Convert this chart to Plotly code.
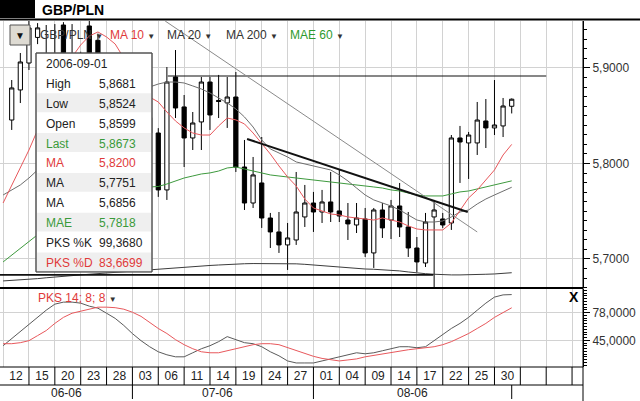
import plotly.graph_objects as go
import pandas as pd

W, H = 640, 401
FONT = "Liberation Sans, Arial, sans-serif"

# ---------------- data ----------------
DAYS = pd.bdate_range("2006-06-12", "2006-09-01")          # 60 trading days
IDX = list(range(len(DAYS)))
CANDLE_IDX = IDX[1:]                                         # candles from 13 June

OPEN = [5.8455, 5.8770, 5.9052, 5.932, 5.912, 5.900, 5.945, 5.910, 5.914, 5.944,
        5.929, 5.892, 5.880, 5.900, 5.870, 5.885, 5.848, 5.8319, 5.7723, 5.8906,
        5.8592, 5.8267, 5.8435, 5.8853, 5.8660, 5.8634, 5.8696, 5.7963, 5.7586, 5.7796,
        5.7429, 5.7283, 5.7147, 5.7199, 5.7440, 5.7586, 5.7492, 5.7597, 5.7503, 5.7408,
        5.7356, 5.7419, 5.7063, 5.7513, 5.7408, 5.7555, 5.7335, 5.7115, 5.6958, 5.7440,
        5.7419, 5.7377, 5.8267, 5.8215, 5.8215, 5.8445, 5.8372, 5.8393, 5.8599]
HIGH = [5.8874, 5.9157, 5.9503, 5.947, 5.945, 5.946, 5.948, 5.946, 5.917, 5.950,
        5.936, 5.912, 5.914, 5.910, 5.895, 5.900, 5.860, 5.837, 5.9010, 5.9188,
        5.8717, 5.8539, 5.8906, 5.8906, 5.8927, 5.8906, 5.8958, 5.8246, 5.8068, 5.8277,
        5.7482, 5.7492, 5.7377, 5.7911, 5.7775, 5.7702, 5.7723, 5.7911, 5.7932, 5.7586,
        5.7586, 5.7534, 5.7534, 5.7586, 5.7618, 5.7796, 5.7492, 5.7230, 5.7482, 5.7618,
        5.7482, 5.8298, 5.8393, 5.8330, 5.8644, 5.8675, 5.8874, 5.8686, 5.8681]
LOW = [5.8351, 5.8633, 5.8979, 5.925, 5.890, 5.893, 5.900, 5.902, 5.895, 5.900,
       5.885, 5.870, 5.868, 5.860, 5.850, 5.840, 5.825, 5.765, 5.7618, 5.8476,
       5.7963, 5.8141, 5.8141, 5.8351, 5.8476, 5.8372, 5.7911, 5.7513, 5.7534, 5.7325,
       5.7115, 5.7063, 5.6885, 5.7147, 5.7335, 5.7283, 5.7377, 5.7387, 5.7387, 5.7199,
       5.7272, 5.7021, 5.6906, 5.7220, 5.7209, 5.7230, 5.7021, 5.6864, 5.6916, 5.6600,
       5.7325, 5.7304, 5.7796, 5.7838, 5.8089, 5.8162, 5.8298, 5.8277, 5.8524]
CLOSE = [5.8791, 5.9063, 5.9419, 5.942, 5.900, 5.914, 5.908, 5.914, 5.905, 5.906,
         5.892, 5.880, 5.900, 5.870, 5.885, 5.848, 5.832, 5.7723, 5.8853, 5.8581,
         5.8267, 5.8424, 5.8853, 5.8508, 5.8650, 5.8696, 5.7963, 5.7586, 5.7880, 5.7429,
         5.7283, 5.7147, 5.7220, 5.7492, 5.7586, 5.7492, 5.7597, 5.7492, 5.7450, 5.7367,
         5.7429, 5.7063, 5.7513, 5.7325, 5.7555, 5.7335, 5.7115, 5.6969, 5.7387, 5.7513,
         5.7356, 5.8267, 5.8225, 5.8298, 5.8455, 5.8372, 5.8403, 5.8602, 5.8673]

MA10 = [5.7586, 5.7775, 5.7953, 5.8141, 5.8351, 5.8560, 5.8770, 5.8958, 5.9115, 5.9241,
        5.9335, 5.9377, 5.9325, 5.9251, 5.9105, 5.8958, 5.8812, 5.8696, 5.8644, 5.8539,
        5.8445, 5.8372, 5.8319, 5.8298, 5.8298, 5.8393, 5.8476, 5.8456, 5.8414, 5.8319,
        5.8215, 5.8099, 5.7974, 5.7859, 5.7764, 5.7628, 5.7534, 5.7503, 5.7471, 5.7461,
        5.7440, 5.7429, 5.7419, 5.7408, 5.7429, 5.7408, 5.7387, 5.7346, 5.7314, 5.7304,
        5.7304, 5.7304, 5.7377, 5.7513, 5.7639, 5.7723, 5.7827, 5.7932, 5.8089, 5.8200]
MA20 = [5.7670, 5.7723, 5.7775, 5.7848, 5.7932, 5.8037, 5.8141, 5.8246, 5.8351, 5.8445,
        5.8529, 5.8602, 5.8665, 5.8717, 5.8759, 5.8780, 5.8791, 5.8801, 5.8832, 5.8853,
        5.8853, 5.8843, 5.8812, 5.8780, 5.8738, 5.8686, 5.8634, 5.8571, 5.8487, 5.8382,
        5.8246, 5.8152, 5.8110, 5.8068, 5.8016, 5.7995, 5.7974, 5.7953, 5.7932, 5.7880,
        5.7817, 5.7743, 5.7670, 5.7618, 5.7586, 5.7555, 5.7513, 5.7461, 5.7408, 5.7387,
        5.7387, 5.7398, 5.7440, 5.7492, 5.7513, 5.7576, 5.7628, 5.7670, 5.7712, 5.7751]
MA200 = [5.6770, 5.6775, 5.6780, 5.6785, 5.6794, 5.6803, 5.6812, 5.6819, 5.6826, 5.6833,
         5.6840, 5.6847, 5.6853, 5.6858, 5.6864, 5.6869, 5.6876, 5.6883, 5.6890, 5.6897,
         5.6904, 5.6911, 5.6918, 5.6925, 5.6932, 5.6937, 5.6943, 5.6948, 5.6950, 5.6952,
         5.6953, 5.6954, 5.6954, 5.6953, 5.6949, 5.6944, 5.6937, 5.6929, 5.6920, 5.6911,
         5.6906, 5.6900, 5.6895, 5.6892, 5.6888, 5.6885, 5.6875, 5.6864, 5.6853, 5.6846,
         5.6840, 5.6833, 5.6833, 5.6833, 5.6833, 5.6836, 5.6840, 5.6843, 5.6850, 5.6856]
MAE60 = [5.6969, 5.7042, 5.7115, 5.7188, 5.7262, 5.7325, 5.7387, 5.7450, 5.7503, 5.7555,
         5.7597, 5.7639, 5.7670, 5.7702, 5.7723, 5.7738, 5.7749, 5.7754, 5.7759, 5.7785,
         5.7817, 5.7848, 5.7869, 5.7890, 5.7901, 5.7921, 5.7953, 5.7963, 5.7942, 5.7921,
         5.7901, 5.7880, 5.7869, 5.7859, 5.7848, 5.7838, 5.7827, 5.7817, 5.7806, 5.7796,
         5.7791, 5.7775, 5.7764, 5.7754, 5.7743, 5.7723, 5.7712, 5.7691, 5.7670, 5.7660,
         5.7660, 5.7660, 5.7681, 5.7702, 5.7712, 5.7733, 5.7754, 5.7775, 5.7796, 5.7818]

PKS_K = [38.6, 47.0, 55.5, 63.9, 72.3, 80.8, 88.0, 90.4, 90.4, 89.2,
         85.6, 83.2, 77.2, 71.1, 62.7, 53.0, 44.6, 37.4, 31.4, 27.8,
         25.4, 25.4, 30.2, 35.0, 38.6, 43.4, 49.4, 45.8, 42.2, 41.0,
         37.4, 31.4, 26.6, 20.5, 18.1, 18.1, 18.1, 20.5, 22.9, 25.4,
         27.8, 30.2, 29.0, 30.2, 32.6, 35.0, 37.4, 37.4, 36.2, 37.4,
         44.6, 51.8, 59.1, 65.1, 72.3, 80.8, 89.2, 96.4, 99.0, 99.368]
PKS_D = [41.0, 41.0, 42.2, 44.6, 50.6, 56.6, 65.1, 72.3, 77.2, 79.6,
         82.0, 84.4, 84.4, 83.8, 82.0, 78.4, 73.5, 66.3, 59.1, 53.1,
         45.8, 39.8, 35.0, 31.4, 30.2, 30.2, 32.6, 35.0, 37.4, 39.8,
         41.0, 41.0, 39.8, 36.2, 32.6, 29.0, 26.0, 23.5, 21.7, 20.5,
         21.7, 22.9, 25.4, 27.2, 29.0, 30.8, 32.6, 33.8, 35.0, 36.2,
         37.4, 39.8, 43.4, 48.2, 53.1, 59.1, 65.1, 72.3, 78.4, 83.6699]

# drawn trend lines (index position, price)
RESIST_X, RESIST_Y = [19.1, 63.0], [5.8916, 5.8916]
LONG_TREND_X, LONG_TREND_Y = [18.8, 55.0], [5.9492, 5.7283]
BOLD_TREND_X, BOLD_TREND_Y = [28.3, 53.9], [5.8257, 5.7492]
SUPPORT_X, SUPPORT_Y = [-0.4, 49.9], [5.6833, 5.6833]

TICK_LABELS = ["12", "15", "20", "23", "28", "03", "06", "11", "14", "19",
               "24", "27", "01", "04", "09", "14", "17", "22", "25", "30"]
MONTHS = ["06-06", "07-06", "08-06"]
MONTH_POS = [7.3, 24.9, 47.5]
MONTH_BOUNDS = [15, 36, 59]

INFO_ROWS = [("2006-09-01", "", "#222222"), ("High", "5,8681", "#222222"),
             ("Low", "5,8524", "#222222"), ("Open", "5,8599", "#222222"),
             ("Last", "5,8673", "#3a9a3a"), ("MA", "5,8200", "#e03a3a"),
             ("MA", "5,7751", "#222222"), ("MA", "5,6856", "#222222"),
             ("MAE", "5,7818", "#3a9a3a"), ("PKS %K", "99,3680", "#222222"),
             ("PKS %D", "83,6699", "#e03a3a")]
LEGEND_ITEMS = [("GBP/PLN", "#333333", 38), ("MA 10", "#e03a3a", 108),
                ("MA 20", "#333333", 165), ("MA 200", "#333333", 224),
                ("MAE 60", "#2e9a2e", 288)]

# ---------------- geometry helpers ----------------
def px(x):
    return x / W

def py(y):
    return 1 - y / H

X_RANGE = [-0.36, 67.27]
AX_RIGHT = 583
PRICE_TOP, PRICE_BOT = 21, 288
IND_TOP, IND_BOT = 289, 367

fig = go.Figure()

# moving averages
for vals, col, wd in [(MA200, "#3c3c3c", 1), (MAE60, "#3e9a3e", 1),
                      (MA20, "#6e6e6e", 1), (MA10, "#e8585c", 1)]:
    fig.add_trace(go.Scatter(x=IDX, y=vals, mode="lines", xaxis="x", yaxis="y",
                             line=dict(color=col, width=wd), hoverinfo="skip"))

fig.add_trace(go.Candlestick(
    x=CANDLE_IDX, open=OPEN, high=HIGH, low=LOW, close=CLOSE, xaxis="x", yaxis="y",
    increasing=dict(line=dict(color="black", width=1), fillcolor="white"),
    decreasing=dict(line=dict(color="black", width=1), fillcolor="black"),
    whiskerwidth=0, hoverinfo="skip"))

for xs, ys, col, wd in [(RESIST_X, RESIST_Y, "#111111", 1.2),
                        (LONG_TREND_X, LONG_TREND_Y, "#8a8a8a", 1),
                        (BOLD_TREND_X, BOLD_TREND_Y, "#111111", 2),
                        (SUPPORT_X, SUPPORT_Y, "#111111", 1.6)]:
    fig.add_trace(go.Scatter(x=xs, y=ys, mode="lines", xaxis="x", yaxis="y",
                             line=dict(color=col, width=wd), hoverinfo="skip"))

# stochastic
fig.add_trace(go.Scatter(x=IDX, y=PKS_K, mode="lines", xaxis="x2", yaxis="y2",
                         line=dict(color="#5a5a5a", width=1), hoverinfo="skip"))
fig.add_trace(go.Scatter(x=IDX, y=PKS_D, mode="lines", xaxis="x2", yaxis="y2",
                         line=dict(color="#e8585c", width=1), hoverinfo="skip"))

GRID_IDX = list(range(0, 67, 3))
GRID = "#d2d2d2"
xdom = [0, px(AX_RIGHT)]
xcommon = dict(domain=xdom, range=X_RANGE, showgrid=False, zeroline=False,
               showline=False, rangeslider=dict(visible=False),
               minor=dict(tickmode="array", tickvals=GRID_IDX, showgrid=True,
                          gridcolor=GRID, gridwidth=1, ticks=""))

fig.update_layout(
    width=W, height=H, margin=dict(l=0, r=0, t=0, b=0),
    paper_bgcolor="white", plot_bgcolor="white", showlegend=False,
    separators=",.", font=dict(family=FONT, size=12, color="#222222"),
    xaxis=dict(**xcommon, anchor="y", showticklabels=False, ticks=""),
    xaxis2=dict(**xcommon, anchor="y2", matches="x", ticks="",
                tickmode="array", tickvals=[i + 1.5 for i in range(0, 58, 3)],
                ticktext=TICK_LABELS, tickfont=dict(size=12, color="#222222")),
    yaxis=dict(domain=[py(PRICE_BOT), py(PRICE_TOP)], range=[5.6696, 5.9492],
               anchor="x", side="right", tickmode="array", tickvals=[5.7, 5.8, 5.9],
               tickformat=".4f", ticks="outside", ticklen=6, tickcolor="black",
               showline=True, linecolor="black", linewidth=1, showgrid=True,
               gridcolor=GRID, zeroline=False, tickfont=dict(size=12, color="#333333"),
               minor=dict(tickmode="linear", tick0=5.7, dtick=0.01, ticks="outside",
                          ticklen=3, tickcolor="black", showgrid=False)),
    yaxis2=dict(domain=[py(IND_BOT), py(IND_TOP)], range=[13.3, 106],
                anchor="x2", side="right", tickmode="array", tickvals=[45, 78],
                tickformat=".4f", ticks="outside", ticklen=6, tickcolor="black",
                showline=True, linecolor="black", linewidth=1, showgrid=True,
                gridcolor=GRID, zeroline=False, tickfont=dict(size=12, color="#333333"),
                minor=dict(tickmode="linear", tick0=45, dtick=3.3, ticks="outside",
                           ticklen=3, tickcolor="black", showgrid=False)),
)

shapes = []
annos = []

def line(x0, y0, x1, y1, color="black", width=1, xref="paper"):
    shapes.append(dict(type="line", xref=xref, yref="paper",
                       x0=x0, y0=py(y0), x1=x1, y1=py(y1),
                       line=dict(color=color, width=width), layer="above"))

def rect(x0, y0, x1, y1, fill, lc=None, lw=1):
    shapes.append(dict(type="rect", xref="paper", yref="paper",
                       x0=px(x0), y0=py(y0), x1=px(x1), y1=py(y1),
                       fillcolor=fill, line=dict(color=lc or fill, width=lw if lc else 0),
                       layer="above"))

def text(x, y, s, color="#222222", size=12, xanchor="left", bold=False, xref="paper"):
    annos.append(dict(x=x, y=py(y), xref=xref, yref="paper", text=f"<b>{s}</b>" if bold else s,
                      showarrow=False, xanchor=xanchor, yanchor="middle",
                      font=dict(family=FONT, size=size, color=color)))

# title bar
rect(0, 0, 35, 18, "black")
line(0, 19.5, 1, 19.5, width=2)
text(px(40), 10, "GBP/PLN", color="black", size=14, bold=True)

# panel separators / frame
line(0, PRICE_BOT, px(AX_RIGHT), PRICE_BOT, width=2)
line(0, IND_BOT, px(AX_RIGHT), IND_BOT, width=1)
line(0, 385, px(AX_RIGHT), 385, width=1)
line(px(AX_RIGHT), PRICE_TOP, px(AX_RIGHT), H, width=1)

# label-row box dividers and month dividers (data x positions)
for gi in GRID_IDX[1:]:
    line(gi, IND_BOT, gi, 385, width=1, xref="x")
for mb in MONTH_BOUNDS:
    line(mb, 385, mb, 399, width=1, xref="x")
for m, mp in zip(MONTHS, MONTH_POS):
    text(mp, 392.5, m, xanchor="center", size=12, xref="x")

# dropdown button
rect(10, 25, 30, 45, "#dedbd3", lc="#555555", lw=1)
text(px(20), 36, "▼", color="#111111", size=10, xanchor="center")

# legend row
for label, col, x0 in LEGEND_ITEMS:
    text(px(x0), 35, label + " <span style='color:#333333;font-size:8px'>▼</span>",
         color=col, size=12)

# info box
BX0, BY0, BX1, ROW_H = 36, 53, 152, 19.9
rect(BX0, BY0, BX1, BY0 + ROW_H * len(INFO_ROWS), "white", lc="#555555", lw=1)
for k, (lab, val, col) in enumerate(INFO_ROWS):
    ya = BY0 + ROW_H * k
    if k in (2, 4, 6, 8, 10):
        rect(BX0 + 1, ya + 0.5, BX1 - 1, ya + ROW_H - 0.5, "#efefef")
    yc = ya + ROW_H / 2 + 1
    text(px(44), yc, lab, color=col, size=12)
    if val:
        text(px(97), yc, val, color=col, size=12)
rect(BX0, BY0, BX1, BY0 + ROW_H * len(INFO_ROWS), "rgba(0,0,0,0)", lc="#555555", lw=1)

# indicator caption and close mark
text(px(36), 298, "PKS 14; 8; 8 <span style='color:#333333;font-size:8px'>▼</span>",
     color="#e03a3a", size=12)
text(px(574), 297, "X", color="black", size=14, xanchor="center", bold=True)

fig.update_layout(shapes=shapes, annotations=annos)
fig.write_html("out.html")
